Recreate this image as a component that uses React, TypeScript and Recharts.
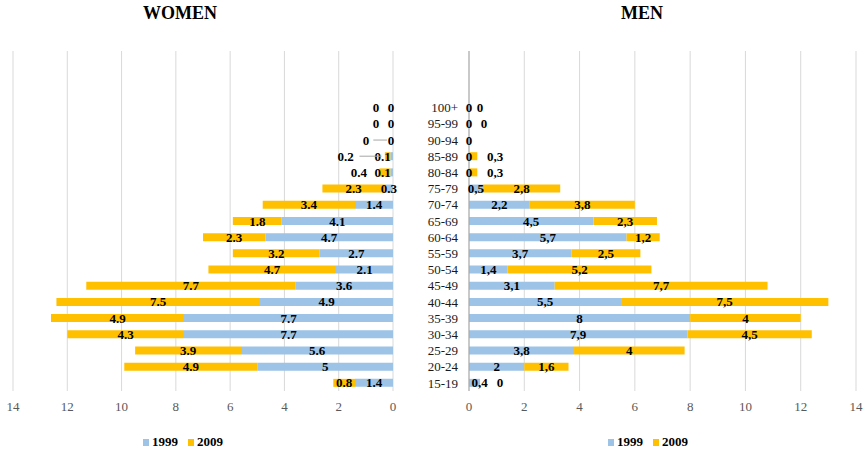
import React from 'react';
import { BarChart, Bar, XAxis, YAxis, CartesianGrid, LabelList } from 'recharts';

// Age groups, listed from the youngest (bottom row) to the oldest (top row)
const ageGroups = [
  '15-19', '20-24', '25-29', '30-34', '35-39', '40-44', '45-49', '50-54', '55-59',
  '60-64', '65-69', '70-74', '75-79', '80-84', '85-89', '90-94', '95-99', '100+',
];

const women1999 = [1.4, 5, 5.6, 7.7, 7.7, 4.9, 3.6, 2.1, 2.7, 4.7, 4.1, 1.4, 0.3, 0.1, 0.1, 0, 0, 0];
const women2009 = [0.8, 4.9, 3.9, 4.3, 4.9, 7.5, 7.7, 4.7, 3.2, 2.3, 1.8, 3.4, 2.3, 0.4, 0.2, 0, 0, 0];
const men1999 = [0.4, 2, 3.8, 7.9, 8, 5.5, 3.1, 1.4, 3.7, 5.7, 4.5, 2.2, 0.5, 0, 0, 0, 0, 0];
const men2009 = [0, 1.6, 4, 4.5, 4, 7.5, 7.7, 5.2, 2.5, 1.2, 2.3, 3.8, 2.8, 0.3, 0.3, 0, 0, 0];

const xTicks = [0, 2, 4, 6, 8, 10, 12, 14];
const seriesNames = ['1999', '2009'];

const BLUE = '#9DC3E6';
const GOLD = '#FFC000';
const SERIF = '"Liberation Serif", "Times New Roman", serif';

// Three empty bands sit above the 100+ row
const spacerRows = [{ age: ' ' }, { age: '  ' }, { age: '   ' }];

const rows: any[] = [
  ...ageGroups.map((age, i) => ({
    age,
    w1999: women1999[i],
    w2009: women2009[i],
    m1999: men1999[i],
    m2009: men2009[i],
  })),
  ...spacerRows,
];
const rowByAge: Record<string, any> = {};
rows.forEach((r) => {
  rowByAge[r.age] = r;
});

// Horizontal shifts for labels on very thin segments, and labels left out
type LabelTweak = { dx?: number; leader?: boolean; hide?: boolean };
const womenInnerTweaks: Record<string, LabelTweak> = {
  '100+': { dx: -2 },
  '95-99': { dx: -2 },
  '90-94': { dx: -2 },
  '85-89': { dx: -9 },
  '80-84': { dx: -9 },
};
const womenOuterTweaks: Record<string, LabelTweak> = {
  '100+': { dx: -17 },
  '95-99': { dx: -17 },
  '90-94': { dx: -27, leader: true },
  '85-89': { dx: -42, leader: true },
  '80-84': { dx: -26 },
};
const menInnerTweaks: Record<string, LabelTweak> = {
  '15-19': { dx: 5 },
};
const menOuterTweaks: Record<string, LabelTweak> = {
  '100+': { dx: 11 },
  '95-99': { dx: 15 },
  '90-94': { hide: true },
  '85-89': { dx: 22 },
  '80-84': { dx: 22 },
  '15-19': { dx: 20 },
};

const fmtDot = (v: number) => String(v);
const fmtComma = (v: number) => String(v).replace('.', ',');

// Value text centred on `base` (shifted by the tweak), with an optional leader line back to it
function valueLabel(key: string, base: number, cy: number, text: string, t: LabelTweak) {
  if (t.hide) return null;
  const dx = t.dx || 0;
  const cx = base + dx;
  const half = text.length * 3.3;
  let leader = null;
  if (t.leader) {
    const x1 = dx < 0 ? cx + half + 4 : cx - half - 4;
    const x2 = dx < 0 ? base - 6 : base + 6;
    leader = <line x1={x1} y1={cy} x2={x2} y2={cy} stroke="#a6a6a6" strokeWidth={1} />;
  }
  return (
    <g key={key}>
      {leader}
      <text
        x={cx}
        y={cy}
        dy="0.35em"
        textAnchor="middle"
        fontFamily={SERIF}
        fontWeight="bold"
        fontSize={13}
        fill="#000"
      >
        {text}
      </text>
    </g>
  );
}

// LabelList values carry the age group so each label can find its row
const keyed = (field: string) => (d: any) => (d[field] == null ? null : `${d.age}|${d[field]}`);

function makeBarLabel(
  tweaks: Record<string, LabelTweak>,
  fmt: (v: number) => string,
  companion?: { field: string; tweaks: Record<string, LabelTweak> }
) {
  return (props: any) => {
    const { x, y, width, height, value } = props;
    if (value === null || value === undefined) return null;
    const [age, raw] = String(value).split('|');
    if (!age || !age.trim()) return null;
    const v = Number(raw);
    if (v === 0) return null;
    const row = rowByAge[age];
    const cy = Number(y) + Number(height) / 2;
    const start = Number(x);
    const end = Number(x) + Number(width);
    const out: any[] = [valueLabel('v', (start + end) / 2, cy, fmt(v), tweaks[age] || {})];
    // an empty outer segment is labelled at the end of this one
    if (companion && row && row[companion.field] === 0) {
      out.push(valueLabel('c', Math.max(start, end), cy, fmt(0), companion.tweaks[age] || {}));
    }
    return <g>{out}</g>;
  };
}

// Rows where the inner segment is empty get their labels at the axis origin
function zeroLabels(age: string, origin: number, cy: number, inner: string, outer: string, innerT: any, outerT: any) {
  const row = rowByAge[age];
  if (!row || row[inner] == null || row[inner] !== 0) return [];
  const out: any[] = [valueLabel('i', origin, cy, '0', innerT[age] || {})];
  if (row[outer] === 0) out.push(valueLabel('o', origin, cy, '0', outerT[age] || {}));
  return out;
}

function WomenOriginTick(props: any) {
  const { x, y, payload } = props;
  const items = zeroLabels(payload.value, Number(x), Number(y), 'w1999', 'w2009', womenInnerTweaks, womenOuterTweaks);
  return <g>{items}</g>;
}

function MenCategoryTick(props: any) {
  const { x, y, payload } = props;
  const age = payload.value;
  if (!age || !String(age).trim()) return null;
  const origin = Number(x) + 11;
  const items = zeroLabels(age, origin, Number(y), 'm1999', 'm2009', menInnerTweaks, menOuterTweaks);
  return (
    <g>
      <text x={x} y={y} dy="0.355em" textAnchor="end" fontFamily={SERIF} fontSize={13} fill="#1a1a1a">
        {age}
      </text>
      {items}
    </g>
  );
}

const axisTick = { fill: '#595959', fontSize: 13, fontFamily: SERIF };

function LegendRow({ left }: { left: number }) {
  const item = (color: string, name: string, gap: number) => (
    <span style={{ display: 'inline-flex', alignItems: 'center', marginRight: gap }}>
      <span style={{ display: 'inline-block', width: 6, height: 7, background: color, marginRight: 3 }} />
      <span>{name}</span>
    </span>
  );
  return (
    <div
      style={{
        position: 'absolute',
        left,
        top: 434,
        fontFamily: SERIF,
        fontWeight: 'bold',
        fontSize: 13,
        lineHeight: '16px',
        color: '#000',
        display: 'flex',
        whiteSpace: 'nowrap',
      }}
    >
      {item(BLUE, seriesNames[0], 10)}
      {item(GOLD, seriesNames[1], 0)}
    </div>
  );
}

function Title({ text, center }: { text: string; center: number }) {
  return (
    <div
      style={{
        position: 'absolute',
        left: center - 100,
        width: 200,
        top: 2,
        textAlign: 'center',
        fontFamily: SERIF,
        fontWeight: 'bold',
        fontSize: 18,
        lineHeight: '22px',
        color: '#000',
      }}
    >
      {text}
    </div>
  );
}

export default function App() {
  return (
    <div
      style={{
        position: 'absolute',
        left: 0,
        top: 0,
        width: 866,
        height: 449,
        background: '#fff',
        overflow: 'hidden',
      }}
    >
      <Title text="WOMEN" center={180} />
      <Title text="MEN" center={642} />

      {/* Women: axis runs from 14 on the left to 0 at the centre */}
      <div style={{ position: 'absolute', left: 0, top: 0 }}>
        <BarChart
          width={400}
          height={449}
          data={rows}
          layout="vertical"
          margin={{ top: 51, right: 6, left: 13, bottom: 0 }}
          barCategoryGap="25%"
        >
          <CartesianGrid horizontal={false} vertical stroke="#d9d9d9" />
          <XAxis
            type="number"
            domain={[0, 14]}
            ticks={xTicks}
            reversed
            axisLine={false}
            tickLine={false}
            tickSize={6}
            tickMargin={5}
            height={58}
            tick={axisTick}
            interval={0}
          />
          <YAxis
            type="category"
            dataKey="age"
            orientation="right"
            reversed
            width={1}
            axisLine={false}
            tickLine={false}
            tickSize={0}
            tickMargin={0}
            interval={0}
            tick={WomenOriginTick}
          />
          <Bar dataKey="w1999" name={seriesNames[0]} stackId="w" fill={BLUE} isAnimationActive={false}>
            <LabelList dataKey={keyed('w1999')} content={makeBarLabel(womenInnerTweaks, fmtDot)} />
          </Bar>
          <Bar dataKey="w2009" name={seriesNames[1]} stackId="w" fill={GOLD} isAnimationActive={false}>
            <LabelList dataKey={keyed('w2009')} content={makeBarLabel(womenOuterTweaks, fmtDot)} />
          </Bar>
        </BarChart>
      </div>

      {/* Men: age labels sit on this chart's category axis */}
      <div style={{ position: 'absolute', left: 400, top: 0 }}>
        <BarChart
          width={466}
          height={449}
          data={rows}
          layout="vertical"
          margin={{ top: 51, right: 10, left: 0, bottom: 0 }}
          barCategoryGap="25%"
        >
          <CartesianGrid horizontal={false} vertical stroke="#d9d9d9" />
          <XAxis
            type="number"
            domain={[0, 14]}
            ticks={xTicks}
            axisLine={false}
            tickLine={false}
            tickSize={6}
            tickMargin={5}
            height={58}
            tick={axisTick}
            interval={0}
          />
          <YAxis
            type="category"
            dataKey="age"
            reversed
            width={69}
            axisLine={{ stroke: '#a6a6a6' }}
            tickLine={false}
            tickSize={6}
            tickMargin={5}
            interval={0}
            tick={MenCategoryTick}
          />
          <Bar dataKey="m1999" name={seriesNames[0]} stackId="m" fill={BLUE} isAnimationActive={false}>
            <LabelList
              dataKey={keyed('m1999')}
              content={makeBarLabel(menInnerTweaks, fmtComma, { field: 'm2009', tweaks: menOuterTweaks })}
            />
          </Bar>
          <Bar dataKey="m2009" name={seriesNames[1]} stackId="m" fill={GOLD} isAnimationActive={false}>
            <LabelList dataKey={keyed('m2009')} content={makeBarLabel(menOuterTweaks, fmtComma)} />
          </Bar>
        </BarChart>
      </div>

      <LegendRow left={143} />
      <LegendRow left={608} />
    </div>
  );
}
